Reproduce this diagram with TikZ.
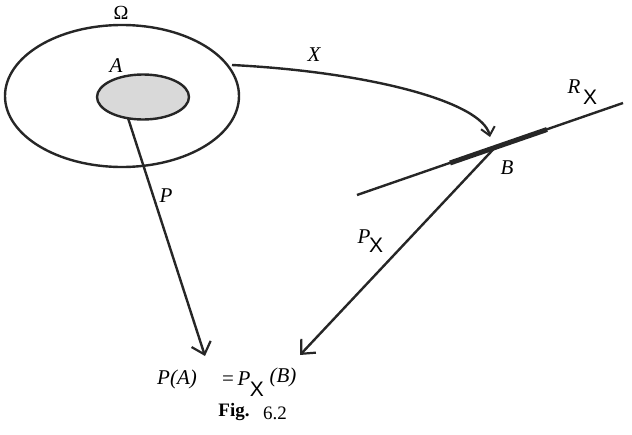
\documentclass[tikz,border=0pt]{standalone}
\usepackage{fontspec}
\setmainfont{Liberation Serif}
\newfontfamily\xsans{Liberation Sans}
\usetikzlibrary{arrows.meta,shapes.geometric}
\tikzset{
  ln/.style={line width=2.4pt, draw=black!85},
  bigbarb/.style={-{Straight Barb[length=11pt,width=20pt,line width=2.2pt]}},
  smallbarb/.style={-{Straight Barb[length=8pt,width=14pt,line width=2pt]}},
  lbl/.style={font=\fontsize{21}{24}\selectfont\itshape, inner sep=0pt},
  sub/.style={font=\xsans\fontsize{21}{24}\selectfont, inner sep=0pt},
}
\begin{document}
\begin{tikzpicture}[x=1pt,y=-1pt]
\useasboundingbox (0,0) rectangle (632,434);
% sets
\node[ln, ellipse, minimum width=234pt, minimum height=142pt, inner sep=0pt] (omega) at (122,96) {};
\node[ln, ellipse, fill=black!15, minimum width=92pt, minimum height=45pt, inner sep=0pt] (A) at (143,97) {};
\node[font=\fontsize{20}{24}\selectfont, inner sep=0pt] (omegalbl) at (121,13) {Ω};
\node[lbl] (Albl) at (116,66) {A};
% real line
\coordinate (r1) at (357,195);
\coordinate (r2) at (623,103);
\coordinate (b1) at (450,163);
\coordinate (b2) at (547,129.5);
\coordinate (B) at (495,147.5);
\draw[ln] (r1) -- (r2);
\draw[line width=5pt, draw=black!85] (b1) -- (b2);
\node[lbl] (Blbl) at (507,168) {B};
\node[lbl] (Rlbl) at (574,87) {R};
\node[sub] (Rsub) at (590,97) {X};
% X map
\coordinate (xs) at (232,65);
\coordinate (xe) at (490,137);
\draw[ln, smallbarb] (xs) .. controls (370,72) and (482,102) .. (xe);
\node[lbl] (Xlbl) at (314,55) {X};
% P arrows
\coordinate (ps) at (128,118);
\coordinate (pe) at (205,356);
\draw[ln, bigbarb] (ps) -- (pe);
\node[lbl] (Plbl) at (166,196) {P};
\coordinate (qe) at (300,355);
\draw[ln, bigbarb] (B) -- (qe);
\node[lbl] (PXlbl) at (364,237) {P};
\node[sub] (PXsub) at (376,245) {X};
% bottom formula
\node[lbl] (PA) at (177,379) {P(A)};
\node[font=\fontsize{21}{24}\selectfont, inner sep=0pt] (eq) at (228,381) {=};
\node[lbl] (PB) at (244,379) {P};
\node[sub] (PBsub) at (257,389) {X};
\node[lbl] (PBarg) at (283,377) {(B)};
\node[font=\fontsize{19}{22}\selectfont\bfseries, inner sep=0pt] (fig) at (234,412) {Fig.};
\node[font=\fontsize{19}{22}\selectfont, inner sep=0pt] (num) at (275,413) {6.2};
\end{tikzpicture}
\end{document}
